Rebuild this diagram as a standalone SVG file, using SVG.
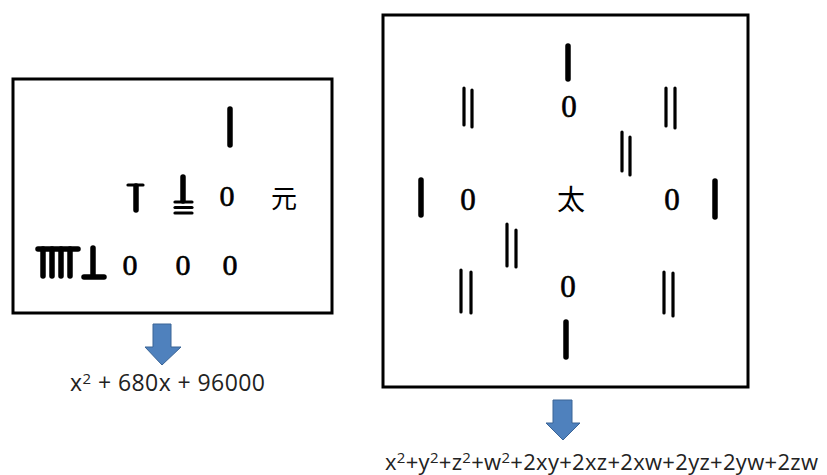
<svg xmlns="http://www.w3.org/2000/svg" width="827" height="475" viewBox="0 0 827 475">
<style>
.box{fill:#fff;stroke:#000;stroke-width:3}
.rod{stroke:#000;stroke-width:5.5;stroke-linecap:round}
.rod2{stroke:#000;stroke-width:3.2;stroke-linecap:round}
.num{font-family:"Liberation Serif",serif;fill:#000;stroke:#000;stroke-width:0.6;text-anchor:middle}
.cjk{font-family:"Noto Sans CJK SC","Liberation Serif",serif;fill:#000;text-anchor:middle}
.arrow{fill:#4F81BD;stroke:#3A6496;stroke-width:1}
.formula{font-family:"Open Sans","Liberation Sans",sans-serif;fill:#222}
.sup{font-size:15px}
</style>
<rect width="827" height="475" fill="#fff"/>

<g id="left-box">
  <rect class="box" x="13" y="79" width="319" height="234"/>
  <line class="rod" x1="230" y1="109" x2="230" y2="145"/>
  <!-- 6 vertical form -->
  <line class="rod2" x1="128" y1="185" x2="143" y2="185"/>
  <line class="rod" x1="136" y1="186" x2="136" y2="210"/>
  <!-- 8 horizontal form -->
  <line class="rod" x1="183" y1="177" x2="183" y2="201"/>
  <line class="rod2" x1="175" y1="202" x2="192" y2="202"/>
  <line class="rod2" x1="175" y1="207.5" x2="192" y2="207.5"/>
  <line class="rod2" x1="175" y1="213" x2="192" y2="213"/>
  <text class="num" x="227" y="206" font-size="30">0</text>
  <text class="cjk" x="284" y="208" font-size="26">元</text>
  <!-- 9 vertical form -->
  <line class="rod" x1="38" y1="249" x2="78" y2="249"/>
  <line class="rod" x1="43" y1="249" x2="43" y2="276"/>
  <line class="rod" x1="52" y1="249" x2="52" y2="276"/>
  <line class="rod" x1="61" y1="249" x2="61" y2="276"/>
  <line class="rod" x1="70" y1="249" x2="70" y2="276"/>
  <!-- 6 horizontal form -->
  <line class="rod" x1="93" y1="248" x2="93" y2="276"/>
  <line class="rod" x1="84" y1="277" x2="104" y2="277"/>
  <text class="num" x="130" y="275" font-size="30">0</text>
  <text class="num" x="183" y="275" font-size="30">0</text>
  <text class="num" x="230" y="275" font-size="30">0</text>
</g>

<g id="right-box">
  <rect class="box" x="383" y="15" width="365" height="372"/>
  <line class="rod" x1="568" y1="46" x2="568" y2="79"/>
  <line class="rod2" x1="464" y1="88" x2="464" y2="125"/>
  <line class="rod2" x1="472" y1="90" x2="472" y2="127"/>
  <text class="num" x="569" y="117" font-size="31">0</text>
  <line class="rod2" x1="666" y1="88" x2="666" y2="126"/>
  <line class="rod2" x1="675" y1="88" x2="675" y2="128"/>
  <line class="rod2" x1="622" y1="132" x2="622" y2="171"/>
  <line class="rod2" x1="630" y1="137" x2="630" y2="175"/>
  <line class="rod" x1="421" y1="180" x2="421" y2="215"/>
  <text class="num" x="468" y="210" font-size="31">0</text>
  <text class="cjk" x="571" y="210" font-size="28">太</text>
  <text class="num" x="672" y="210" font-size="31">0</text>
  <line class="rod" x1="715" y1="181" x2="715" y2="217"/>
  <line class="rod2" x1="507" y1="224" x2="507" y2="266"/>
  <line class="rod2" x1="516" y1="230" x2="516" y2="267"/>
  <line class="rod2" x1="461" y1="270" x2="461" y2="312"/>
  <line class="rod2" x1="471" y1="272" x2="471" y2="313"/>
  <text class="num" x="568" y="297" font-size="31">0</text>
  <line class="rod2" x1="664" y1="272" x2="664" y2="313"/>
  <line class="rod2" x1="673" y1="273" x2="673" y2="316"/>
  <line class="rod" x1="566" y1="322" x2="566" y2="357"/>
</g>

<g id="connectors">
  <path class="arrow" d="M153,324 H171 V347 H181 L162,365 L145,347 H153 Z"/>
  <path class="arrow" d="M553,400 H572 V423 H580 L563,440 L546,423 H553 Z"/>
</g>

<g id="formula-left">
  <text class="formula" x="70" y="391" font-size="23" textLength="195" lengthAdjust="spacing">x<tspan class="sup" baseline-shift="45%">2</tspan> + 680x + 96000</text>
</g>
<g id="formula-right">
  <text class="formula" x="385" y="470" font-size="22" textLength="433" lengthAdjust="spacing">x<tspan class="sup" baseline-shift="45%">2</tspan>+y<tspan class="sup" baseline-shift="45%">2</tspan>+z<tspan class="sup" baseline-shift="45%">2</tspan>+w<tspan class="sup" baseline-shift="45%">2</tspan>+2xy+2xz+2xw+2yz+2yw+2zw</text>
</g>
</svg>
